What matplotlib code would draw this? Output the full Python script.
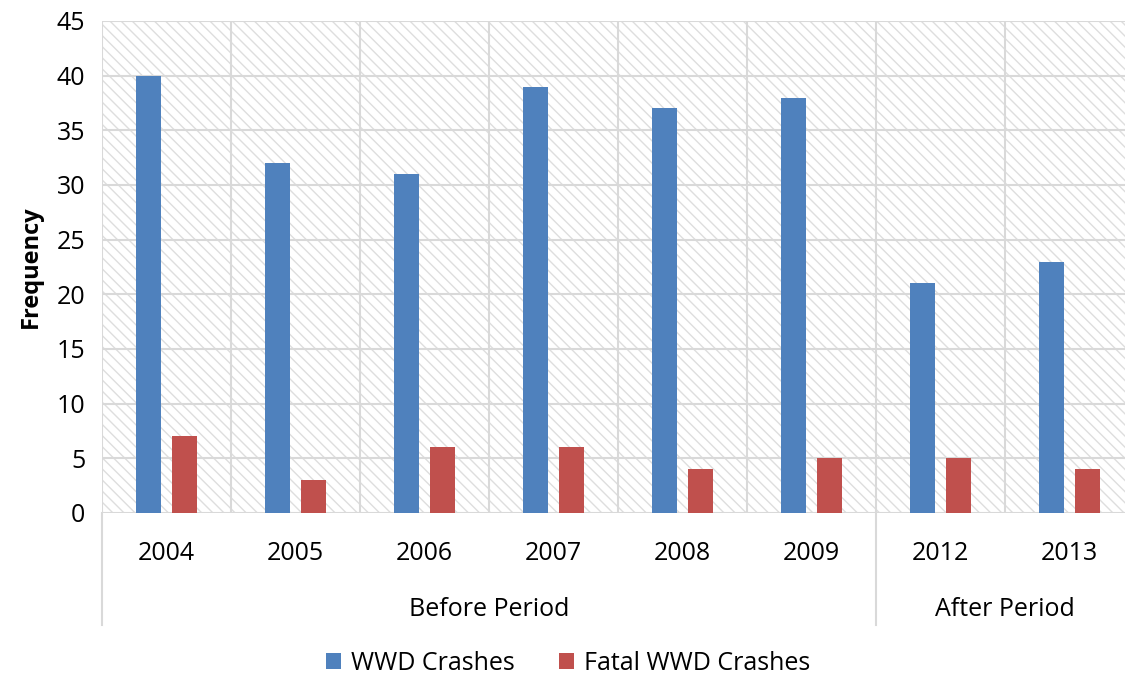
import numpy as np
import matplotlib.pyplot as plt
from matplotlib.patches import Rectangle
import matplotlib.transforms as mtransforms

plt.rcParams['font.family'] = ['Open Sans', 'DejaVu Sans']
plt.rcParams['hatch.linewidth'] = 1.0

#Data
years      = ['2004', '2005', '2006', '2007', '2008', '2009', '2012', '2013']
wwd        = [40, 32, 31, 39, 37, 38, 21, 23]
fatal_wwd  = [7, 3, 6, 6, 4, 5, 5, 4]
periods    = ['Before Period', 'After Period']
period_len = [6, 2]

blue  = '#4F81BD'
red   = '#C0504D'
grid  = '#D9D9D9'

fig = plt.figure(figsize=(11.25, 6.77), dpi=100)
ax = fig.add_axes([102/1125, 1 - 513/677, 1032/1125, 492/677])

#Hatched plot area background
bg = Rectangle((0, 0), 1, 1, transform=ax.transAxes, facecolor='white',
               edgecolor='#DEDEDE', hatch='\\\\\\', lw=0, zorder=0)
ax.add_patch(bg)
ax.patch.set_visible(False)

x = np.arange(len(years)) + 0.5
w = 0.194
off = 0.14
ax.bar(x - off, wwd, width=w, color=blue, label='WWD Crashes', zorder=3)
ax.bar(x + off, fatal_wwd, width=w, color=red, label='Fatal WWD Crashes', zorder=3)

ax.set_xlim(0, len(years))
ax.set_ylim(0, 45)
ax.set_yticks(np.arange(0, 46, 5))
ax.set_xticks(x)
ax.set_xticklabels(years)
ax.set_xticks(np.arange(0, len(years) + 1), minor=True)
ax.tick_params(axis='both', which='both', length=0, labelsize=18, colors='black')
ax.tick_params(axis='x', pad=20)
ax.tick_params(axis='y', pad=12)

ax.grid(axis='y', which='major', color=grid, lw=1.5, zorder=1)
ax.grid(axis='x', which='minor', color=grid, lw=1.5, zorder=1)
for s in ax.spines.values():
    s.set_visible(False)

ax.set_ylabel('Frequency', fontsize=17, fontweight='bold', labelpad=10)

#Group labels and separators below the axis
trans = mtransforms.blended_transform_factory(ax.transData, ax.transAxes)
depth = -(625 - 513) / 492
start = 0
bounds = [0]
for name, n in zip(periods, period_len):
    ax.text(start + n / 2, -0.196, name, transform=trans, ha='center', va='center', fontsize=18)
    start += n
    bounds.append(start)
for b in bounds[:-1]:
    ax.plot([b, b], [0, depth], transform=trans, color=grid, lw=1.5, clip_on=False)

fig.legend(loc='center', bbox_to_anchor=(0.505, 1 - 663/677), ncol=2, frameon=False,
           fontsize=18, handlelength=0.6, handleheight=0.6, columnspacing=1.8, handletextpad=0.4)

fig.savefig('out.png', dpi=100)
